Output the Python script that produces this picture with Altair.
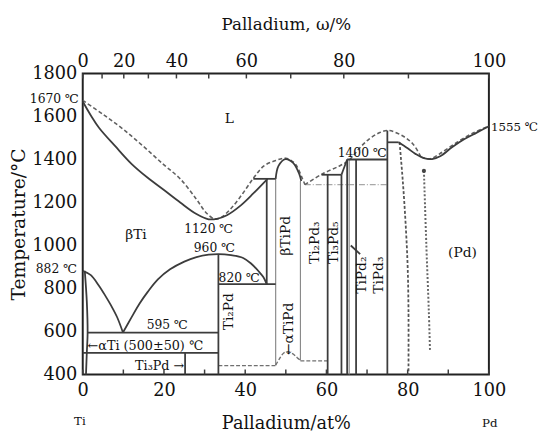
import altair as alt
import pandas as pd

FONT = "DejaVu Serif"
INK = "#111111"
LINE = "#3c3c3c"

# ---------------- axis values ----------------
at_ticks = [0, 10, 20, 30, 40, 50, 60, 70, 80, 90, 100]
at_labels = [0, 20, 40, 60, 80, 100]
wt_ticks = [0, 10, 20, 30, 40, 50, 60, 70, 80, 90, 100]
wt_labels = [0, 20, 40, 60, 80, 100]
temp_labels = [400, 600, 800, 1000, 1200, 1400, 1600, 1800]
M_TI, M_PD = 47.867, 106.42


def wt_to_at(w):
    a = w / M_PD
    b = (100 - w) / M_TI
    return 100 * a / (a + b)


# ---------------- phase boundaries (at%, °C) ----------------
liquidus_solid = [(0, 1670), (2, 1605), (4, 1548), (8, 1462), (12, 1380), (16, 1315),
                  (20, 1258), (24, 1200), (28, 1146), (31, 1122), (33, 1124), (35.5, 1141),
                  (39, 1188), (42, 1242), (45.5, 1310)]
liquidus_dashed_a = [(0, 1675), (5, 1610), (10, 1540), (15, 1460), (20, 1375), (24, 1310),
                     (28, 1215), (30.5, 1150), (32.5, 1123), (34, 1130), (36.5, 1172),
                     (39.4, 1242), (42.1, 1315), (44.6, 1370), (47.5, 1395), (50, 1406),
                     (52.3, 1380), (54, 1315), (54.7, 1283)]
liquidus_dashed_b = [(54.7, 1283), (59, 1333), (63.2, 1370), (65.6, 1397), (68, 1450),
                     (70.5, 1495), (73, 1524), (75.3, 1535), (79, 1507), (81.4, 1470),
                     (83.3, 1411)]
liquidus_dashed_c = [(83.3, 1411), (85.5, 1403), (88, 1428), (92, 1478), (96, 1522), (100, 1555)]
btipd_dome = [(47.5, 1310), (48.2, 1370), (49.9, 1402), (51.8, 1384), (53.3, 1333), (53.8, 1300)]
pd_liquidus = [(77.8, 1480), (80, 1452), (82, 1425), (84, 1406), (86, 1402), (88, 1415),
               (91, 1458), (94, 1495), (97, 1525), (100, 1555)]
ati_solvus = [(0.5, 882), (1, 740), (1.2, 595), (1, 500), (0.8, 400)]
bti_transus = [(0, 882), (2, 862), (3.9, 815), (5.5, 768), (7, 720), (8.5, 665), (9.9, 595)]
ti2pd_dome = [(9.9, 595), (11.9, 662), (14, 730), (16, 784), (18.5, 842), (21.5, 889),
              (25, 925), (28, 946), (31, 957), (33.4, 960), (36.5, 955), (39.5, 942),
              (41.5, 915), (43.3, 880), (44.5, 852), (45.3, 820)]

solid_segments = {
    "h595": [(1.2, 595), (33.4, 595)],
    "h500": [(0, 500), (33.4, 500)],
    "v_ti3pd": [(25.2, 500), (25.2, 400)],
    "v_ti2pd": [(33.4, 960), (33.4, 400)],
    "h820": [(33.4, 820), (47.5, 820)],
    "v45": [(45.3, 1310), (45.3, 820)],
    "h1310": [(42, 1310), (47.5, 1310)],
    "h1329": [(58.8, 1329), (63.7, 1329)],
    "v60": [(60.3, 1329), (60.3, 400)],
    "v63": [(63.7, 1329), (63.7, 400)],
    "s63": [(63.7, 1329), (65.1, 1400)],
    "h1400": [(65.1, 1400), (75, 1400)],
    "v65": [(65.1, 1400), (65.1, 400)],
    "v67": [(67.3, 1400), (67.3, 400)],
    "v75": [(75, 1535), (75, 400)],
    "h1480": [(75, 1480), (77.8, 1480)],
    "tipd2_arrow": [(68.3, 960), (66.0, 1000)],
}
thin_segments = {
    "v47": [(47.5, 1310), (47.5, 443)],
    "v53": [(53.6, 1300), (53.6, 465)],
    "v655": [(65.6, 1400), (65.6, 400)],
}
atipd_dashed = {
    "h441": [(33.4, 441), (47.5, 441)],
    "bump": [(47.5, 443), (48.5, 475), (49.5, 500), (50.6, 506), (51.8, 495), (52.8, 478), (53.6, 466)],
    "h463": [(53.6, 463), (60.3, 463)],
}
pd_solvus = [(78, 1480), (78.8, 1300), (79.5, 1100), (80, 900), (80.2, 700), (80.2, 400)]
dotted_line = [(84, 1347), (84.6, 1000), (85.2, 700), (85.5, 510)]
dashdot_1283 = [(54.7, 1283), (75, 1283)]

# ---------------- labels ----------------
temp_texts = [("1670 ℃", -7.0, 1682), ("1400 ℃", 68.8, 1429), ("1120 ℃", 31.0, 1077),
              ("960 ℃", 32.4, 990), ("882 ℃", -6.5, 888), ("820 ℃", 38.5, 848),
              ("595 ℃", 20.8, 628)]
edge_texts = [("1555 ℃", 100.5, 1553)]
left_texts = [("←αTi (500±50) ℃", 1.2, 532)]
right_texts = [("Ti₃Pd →", 25.0, 441)]
phase_texts = [("L", 36.1, 1589), ("βTi", 13.1, 1049), ("(Pd)", 93.5, 967)]
rotated_texts = [("Ti₂Pd", 36.1, 692), ("βTiPd", 50.1, 1045), ("←αTiPd", 50.8, 612),
                 ("Ti₂Pd₃", 57.1, 1013), ("Ti₃Pd₅", 62.0, 1013), ("TiPd₂", 68.8, 862),
                 ("TiPd₃", 72.9, 862)]
element_texts = [("Ti", -0.7, 184), ("Pd", 100.2, 175)]

# ---------------- helpers ----------------
xs = alt.Scale(domain=[0, 100], nice=False, zero=False)
ys = alt.Scale(domain=[400, 1800], nice=False, zero=False)
W, H = 413, 306

AX = dict(labelFont=FONT, titleFont=FONT, labelFontSize=18, labelColor=INK,
          labelFlush=False, labelOverlap=False, titleFontWeight="normal", titleColor=INK,
          ticks=False, domain=False, grid=False)

y_axis = alt.Axis(values=temp_labels, format="d", labelPadding=6,
                  title="Temperature/°C", titleFontSize=19, titlePadding=3, **AX)
X = alt.X("x:Q", scale=xs, axis=None)
Y = alt.Y("t:Q", scale=ys, axis=y_axis)


def frame(groups):
    rows = []
    for name, pts in groups.items():
        for i, (x, t) in enumerate(pts):
            rows.append({"id": name, "o": i, "x": x, "t": t})
    return pd.DataFrame(rows)


def lines(groups, **mk):
    return alt.Chart(frame(groups)).mark_line(interpolate="catmull-rom", **mk).encode(
        x=X, y=Y, detail="id:N", order="o:Q")


def texts(items, **mk):
    df = pd.DataFrame(items, columns=["label", "x", "t"])
    return alt.Chart(df).mark_text(font=FONT, color=INK, **mk).encode(x=X, y=Y, text="label:N")


def label_expr(positions, labels):
    expr = ""
    for p, lab in zip(positions, labels):
        expr += f"abs(datum.value - {p:.4f}) < 0.5 ? '{lab}' : "
    return expr + "''"


top_pos = [wt_to_at(w) for w in wt_labels]
top_axis = alt.Axis(orient="top", values=top_pos, labelExpr=label_expr(top_pos, wt_labels),
                    labelPadding=3, title="Palladium, ω/%", titleFontSize=17, titlePadding=20, **AX)
bottom_axis = alt.Axis(orient="bottom", values=at_labels, format="d", labelPadding=7,
                       title="Palladium/at%", titleFontSize=18, titlePadding=16, **AX)

top_ticks = alt.Chart(pd.DataFrame({"x": [wt_to_at(w) for w in wt_ticks]})).mark_rule(
    color=LINE, strokeWidth=1.5).encode(
    x=alt.X("x:Q", scale=xs, axis=top_axis), y=alt.value(0), y2=alt.value(5))
bottom_ticks = alt.Chart(pd.DataFrame({"x": at_ticks})).mark_rule(
    color=LINE, strokeWidth=1.5).encode(
    x=alt.X("x:Q", scale=xs, axis=bottom_axis), y=alt.value(H), y2=alt.value(H - 5))

solid_curves = lines({
    "liq": liquidus_solid, "dome": btipd_dome, "pdliq": pd_liquidus, "solv": ati_solvus,
    "transus": bti_transus, "ti2pd": ti2pd_dome, **solid_segments,
}, color=LINE, strokeWidth=1.8)
thin_lines = lines(thin_segments, color="#8a8a8a", strokeWidth=1.2)
dashed_liq = lines({"a": liquidus_dashed_a, "b": liquidus_dashed_b, "c": liquidus_dashed_c},
                   color="#606060", strokeWidth=1.6, strokeDash=[4, 2.5])
atipd = lines(atipd_dashed, color="#707070", strokeWidth=1.4, strokeDash=[4, 2])
pd_solv = lines({"pd": pd_solvus}, color="#555555", strokeWidth=1.8, strokeDash=[3, 2])
dotted = lines({"dot": dotted_line}, color="#666666", strokeWidth=2, strokeDash=[2, 2])
dashdot = lines({"dd": dashdot_1283}, color="#a8a8a8", strokeWidth=1.2, strokeDash=[6, 2, 1, 2])
dot_top = alt.Chart(pd.DataFrame([dotted_line[0]], columns=["x", "t"])).mark_point(
    filled=True, color="#444", size=18, opacity=1).encode(x=X, y=Y)

layers = [
    top_ticks, bottom_ticks, dashdot, thin_lines, atipd, dashed_liq, pd_solv, dotted, dot_top,
    solid_curves,
    texts(temp_texts, fontSize=12.5),
    texts(edge_texts, fontSize=12, align="left"),
    texts(left_texts, fontSize=13, align="left"),
    texts(right_texts, fontSize=13, align="right"),
    texts(phase_texts, fontSize=14),
    texts(rotated_texts, fontSize=14, angle=270),
    texts(element_texts, fontSize=12),
]

chart = alt.layer(*layers).resolve_axis(x="independent").properties(
    width=W, height=H,
    autosize=alt.AutoSizeParams(type="none"),
    padding={"left": 76, "top": 63, "right": 54, "bottom": 61},
).configure_view(stroke="#222222", strokeWidth=2)

chart.save("out.html", embed_options={"renderer": "svg", "actions": False})
